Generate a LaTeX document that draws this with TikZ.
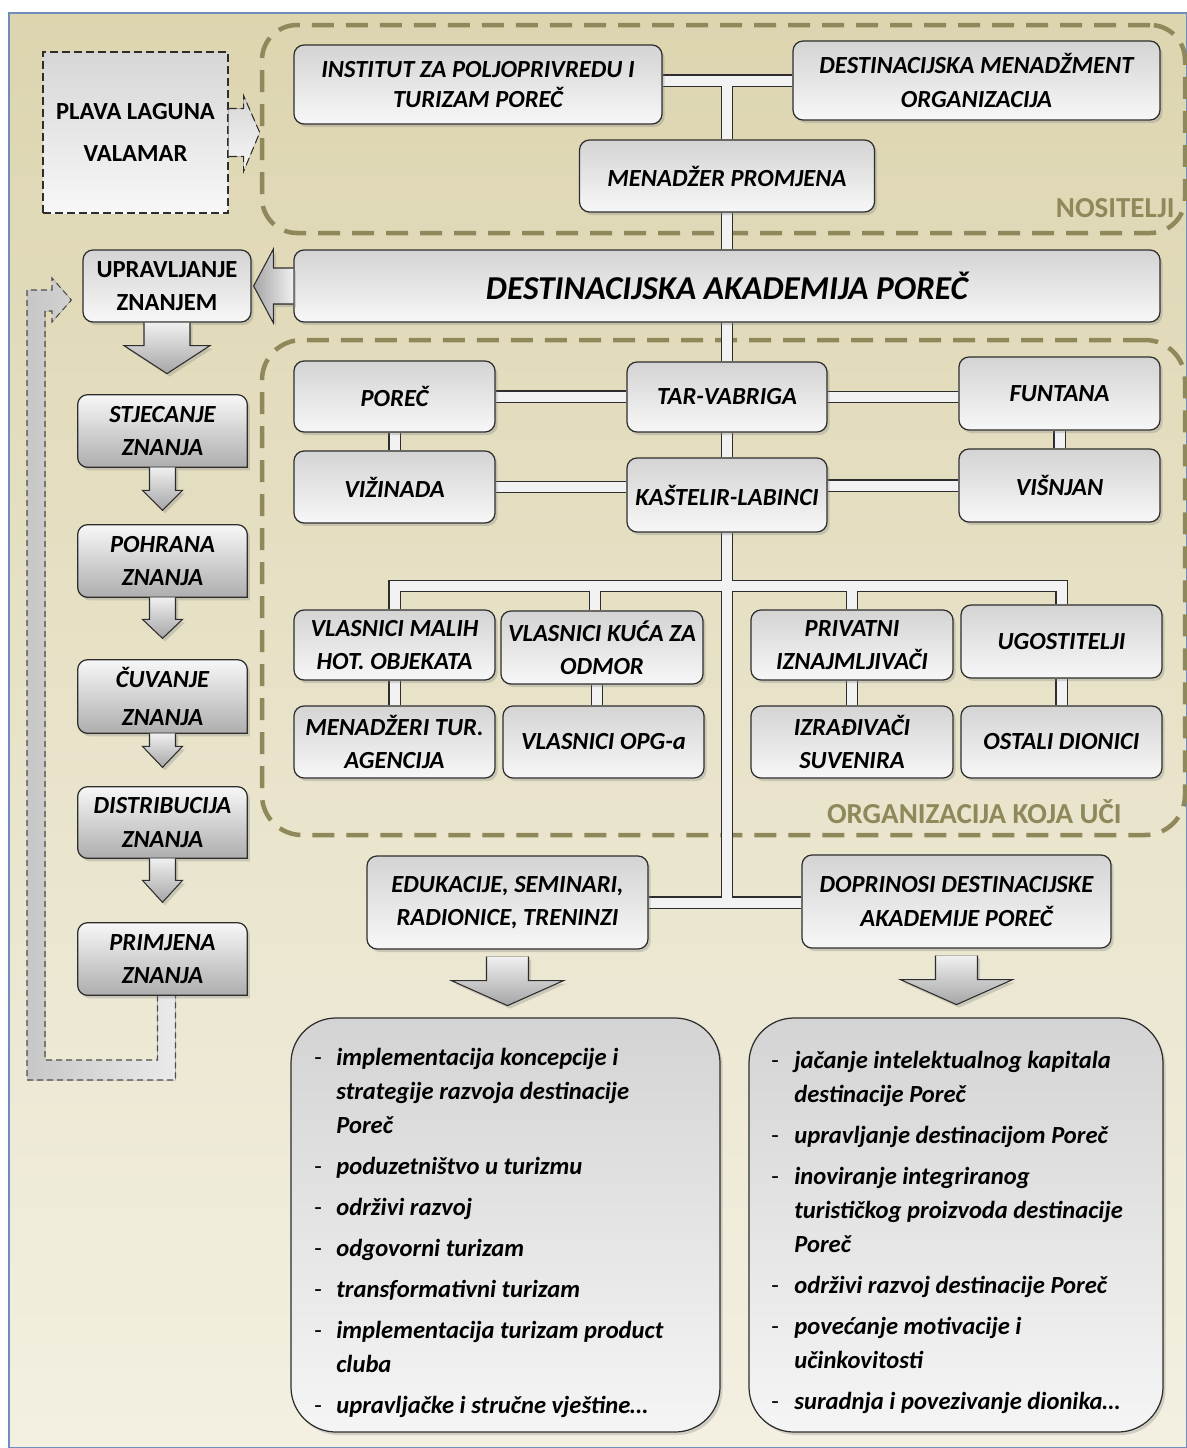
\documentclass[tikz,border=0pt]{standalone}
\usepackage{fontspec}
\setmainfont{Carlito}
\usepackage{tikz}
\usetikzlibrary{shapes,arrows,backgrounds,%
positioning,fit,calc,shadows%
}

\pgfdeclarelayer{bg}
\pgfdeclarelayer{pipes}
\pgfsetlayers{bg,pipes,main}

\definecolor{olivedash}{RGB}{143,136,90}
\definecolor{tantop}{RGB}{221,213,176}
\definecolor{tanbot}{RGB}{243,240,226}
\definecolor{framblue}{RGB}{112,140,186}
\definecolor{boxline}{RGB}{45,45,45}

\newcommand{\boxfont}{\fontsize{14}{19}\selectfont\bfseries\itshape}
\newcommand{\upfont}{\fontsize{14}{19}\selectfont\bfseries}
\newcommand{\titlefont}{\fontsize{19}{22}\selectfont\bfseries\itshape}
\newcommand{\listfont}{\fontsize{14}{19.35}\selectfont\bfseries\itshape}
\newcommand{\dashmark}{\textup{\mdseries -}}

\begin{document}
\begin{tikzpicture}[x=0.2mm,y=-0.2mm,
    sz/.style 2 args={minimum width=#1*0.2mm, minimum height=#2*0.2mm},
    shade/.style={drop shadow={opacity=0.3,shadow xshift=0.5mm,shadow yshift=-0.6mm}},
    box/.style={draw=boxline, line width=0.7pt, rounded corners=2mm,
      top color=black!17, bottom color=black!3, font=\boxfont,
      align=center, inner sep=1pt, shade},
    steptext/.style={font=\boxfont, align=center, inner sep=1pt},
    stepbox/.style={draw=boxline, line width=0.7pt,
      top color=black!3, bottom color=black!32, shade},
    dashbox/.style={draw=boxline, line width=0.6pt, dash pattern=on 1.6mm off 0.8mm,
      top color=black!16, bottom color=black!3, font=\upfont, align=center},
    listbox/.style={draw=boxline, line width=0.7pt, rounded corners=9mm,
      top color=black!17, bottom color=black!4, shade},
    listtext/.style={font=\listfont, inner sep=0pt},
    region/.style={draw=olivedash, line width=0.9mm, dash pattern=on 4.4mm off 2.4mm},
    regionlabel/.style={text=olivedash, font=\fontsize{16.5}{19}\selectfont\bfseries, inner sep=0pt},
    pipe/.style={draw=boxline, line width=0.6pt, double=black!5, double distance=2mm},
    blockarrow/.style={draw=boxline, line width=0.6pt, shade},
    loopline/.style={draw=black!70, line width=0.6pt, dash pattern=on 1.2mm off 0.8mm,
      left color=black!22, right color=black!8},
    pics/downarr/.style n args={4}{code={
      \filldraw[blockarrow, top color=black!6, bottom color=black!35]
        (-#1,0) -- (-#1,#3) -- (-#2,#3) -- (0,#4) -- (#2,#3) -- (#1,#3) -- (#1,0);
    }}]

  \useasboundingbox (0,0) rectangle (1187,1448);

  % background and the two groups
  \begin{pgfonlayer}{bg}
    \fill[white] (0,0) rectangle (1187,1448);
    \shade[top color=tantop, bottom color=tanbot, draw=framblue, line width=0.6pt]
      (9,13) rectangle (1187,1448);
    \node[region, rounded corners=7mm, sz={923}{208}] (nos) at (723.5,129) {};
    \node[regionlabel, anchor=east] (noslab) at (1175,208) {NOSITELJI};
    \node[region, rounded corners=8mm, sz={923}{495}] (org) at (723.5,587.5) {};
    \node[regionlabel, anchor=east] (orglab) at (1122,812) {ORGANIZACIJA KOJA UČI};
  \end{pgfonlayer}

  % nositelji
  \node[box, sz={368}{79}] (inst) at (478,84.5) {INSTITUT ZA POLJOPRIVREDU I\\[-2pt]TURIZAM POREČ};
  \node[box, sz={367}{79}] (dmo) at (976.5,80.5) {DESTINACIJSKA MENADŽMENT\\ORGANIZACIJA};
  \node[box, sz={295}{72}] (mp) at (727,176) {MENADŽER PROMJENA};
  \node[box, sz={866}{72}, font=\titlefont] (dap) at (727,286) {DESTINACIJSKA AKADEMIJA POREČ};

  % upravljanje znanjem
  \node[dashbox, sz={185}{161}] (plava) at (135.5,132.5) {PLAVA LAGUNA\\[5pt]VALAMAR};
  \node[box, sz={168}{72}, font=\upfont] (uz) at (167,286) {UPRAVLJANJE\\ZNANJEM};
  \node[steptext, sz={169}{72}] (stj) at (162.5,431) {STJECANJE\\ZNANJA};
  \node[steptext, sz={169}{72}] (poh) at (162.5,561) {POHRANA\\ZNANJA};
  \node[steptext, sz={169}{73}] (cuv) at (162.5,696.5) {ČUVANJE\\[3pt]ZNANJA};
  \node[steptext, sz={169}{71}] (dist) at (162.5,822.5) {DISTRIBUCIJA\\ZNANJA};
  \node[steptext, sz={169}{72}] (prim) at (162.5,959) {PRIMJENA\\ZNANJA};

  % organizacija koja uci
  \node[box, sz={201}{71}] (porec) at (394.5,396.5) {POREČ};
  \node[box, sz={200}{70}] (tar) at (727,397) {TAR-VABRIGA};
  \node[box, sz={201}{73}] (fun) at (1059.5,393.5) {FUNTANA};
  \node[box, sz={201}{72}] (viz) at (394.5,487) {VIŽINADA};
  \node[box, sz={200}{74}] (kas) at (727,495) {KAŠTELIR-LABINCI};
  \node[box, sz={201}{73}] (vis) at (1059.5,485.5) {VIŠNJAN};
  \coordinate (barlvl) at (0,586);
  \node[box, sz={201}{70}] (vmh) at (394.5,645) {VLASNICI MALIH\\HOT. OBJEKATA};
  \node[box, sz={202}{73}] (vkz) at (602,647.5) {VLASNICI KUĆA ZA\\ODMOR};
  \node[box, sz={202}{70}] (priv) at (852,645) {PRIVATNI\\IZNAJMLJIVAČI};
  \node[box, sz={201}{73}] (ugo) at (1061.5,641.5) {UGOSTITELJI};
  \node[box, sz={201}{72}] (mta) at (394.5,742) {MENADŽERI TUR.\\AGENCIJA};
  \node[box, sz={201}{72}] (opg) at (603.5,742) {VLASNICI OPG-a};
  \node[box, sz={202}{72}] (izr) at (852,742) {IZRAĐIVAČI\\SUVENIRA};
  \node[box, sz={201}{72}] (ost) at (1061.5,742) {OSTALI DIONICI};

  % rezultati
  \node[box, sz={281}{93}] (edu) at (507.5,902.5) {EDUKACIJE, SEMINARI,\\RADIONICE, TRENINZI};
  \node[box, sz={309}{93}] (dop) at (956.5,901.5) {DOPRINOSI DESTINACIJSKE\\AKADEMIJE POREČ};
  \node[listbox, sz={429}{414}] (edulist) at (505.5,1225) {};
  \node[listbox, sz={414}{414}] (doplist) at (956,1225) {};
  \node[listtext, anchor=base west] (edutxt) at (314,1065) {%
    \begin{tabular}[t]{@{}p{4.4mm}@{}l@{}}
      \dashmark & implementacija koncepcije i\\
       & strategije razvoja destinacije\\
       & Poreč\\[4pt]
      \dashmark & poduzetništvo u turizmu\\[4pt]
      \dashmark & održivi razvoj\\[4pt]
      \dashmark & odgovorni turizam\\[4pt]
      \dashmark & transformativni turizam\\[4pt]
      \dashmark & implementacija turizam product\\
       & cluba\\[4pt]
      \dashmark & upravljačke i stručne vještine…
    \end{tabular}};
  \node[listtext, anchor=base west] (doptxt) at (771,1068) {%
    \begin{tabular}[t]{@{}p{4.6mm}@{}l@{}}
      \dashmark & jačanje intelektualnog kapitala\\
       & destinacije Poreč\\[4pt]
      \dashmark & upravljanje destinacijom Poreč\\[4pt]
      \dashmark & inoviranje integriranog\\
       & turističkog proizvoda destinacije\\
       & Poreč\\[4pt]
      \dashmark & održivi razvoj destinacije Poreč\\[4pt]
      \dashmark & povećanje motivacije i\\
       & učinkovitosti\\[4pt]
      \dashmark & suradnja i povezivanje dionika…
    \end{tabular}};

  % connectors behind the boxes
  \begin{pgfonlayer}{pipes}
    \filldraw[loopline] ($(prim.south)+(-5,0)$) |- (45,1060) |- (52,311) -- (52,322)
      -- ($(uz.west)+(-11,14)$) -- (52,278) -- (52,290) -| (27,1080)
      -| ($(prim.south)+(13,0)$);
    \foreach \b in {stj,poh,cuv,dist,prim}
      \filldraw[stepbox] (\b.west) [rounded corners=2mm] -- (\b.north west)
        -- (\b.north east) [sharp corners] -- (\b.south east)
        [rounded corners=2mm] -- (\b.south west) [sharp corners] -- cycle;
    \draw[pipe] (inst.east |- dmo.west) -- (dmo.west)
      (mp.north |- dmo.west) -- (mp.north)
      (mp.south) -- (dap.north)
      (dap.south) -- (tar.north)
      (porec.east) -- (porec.east -| tar.west)
      (tar.east) -- (tar.east -| fun.west)
      (porec.south) -- (porec.south |- viz.north)
      (fun.south) -- (fun.south |- vis.north)
      (tar.south) -- (kas.north)
      (viz.east) -- (viz.east -| kas.west)
      (vis.west) -- (vis.west -| kas.east)
      (kas.south) -- (kas.south |- edu.east)
      (edu.east) -- (edu.east -| dop.west)
      (vmh.north) -- (vmh.north |- barlvl) -- (ugo.north |- barlvl) -- (ugo.north)
      ($(vkz.north)+(-7,0)$) -- ($(vkz.north |- barlvl)+(-7,0)$)
      (priv.north) -- (priv.north |- barlvl)
      (vmh.south) -- (mta.north)
      ($(vkz.south)+(-5,0)$) -- ($(vkz.south |- opg.north)+(-5,0)$)
      (priv.south) -- (izr.north)
      (ugo.south) -- (ost.north);
  \end{pgfonlayer}

  % block arrows
  \filldraw[dashbox] ($(plava.east)+(0,-24)$) -- ++(15,0) -- ++(0,-13)
    -- (plava.east -| nos.west) -- ($(plava.east)+(15,39)$) -- ++(0,-15)
    -- ($(plava.east)+(0,24)$);
  \filldraw[blockarrow, left color=black!35, right color=black!6]
    ($(dap.west)+(0,-18)$) -- ++(-20,0) -- ++(0,-19) -- ($(uz.east)+(2,0)$)
    -- ($(dap.west)+(-20,37)$) -- ++(0,-19) -- ($(dap.west)+(0,18)$);
  \pic at (uz.south) {downarr={23}{43}{23}{51}};
  \pic at (stj.south) {downarr={13}{20}{23}{43}};
  \pic at (poh.south) {downarr={13}{20}{22}{41}};
  \pic at (cuv.south) {downarr={13}{20}{13}{34}};
  \pic at (dist.south) {downarr={13}{20}{22}{44}};
  \pic at ($(edu.south)+(0,7)$) {downarr={21}{56}{24}{49}};
  \pic at ($(dop.south)+(0,7)$) {downarr={21}{56}{24}{49}};
\end{tikzpicture}
\end{document}
